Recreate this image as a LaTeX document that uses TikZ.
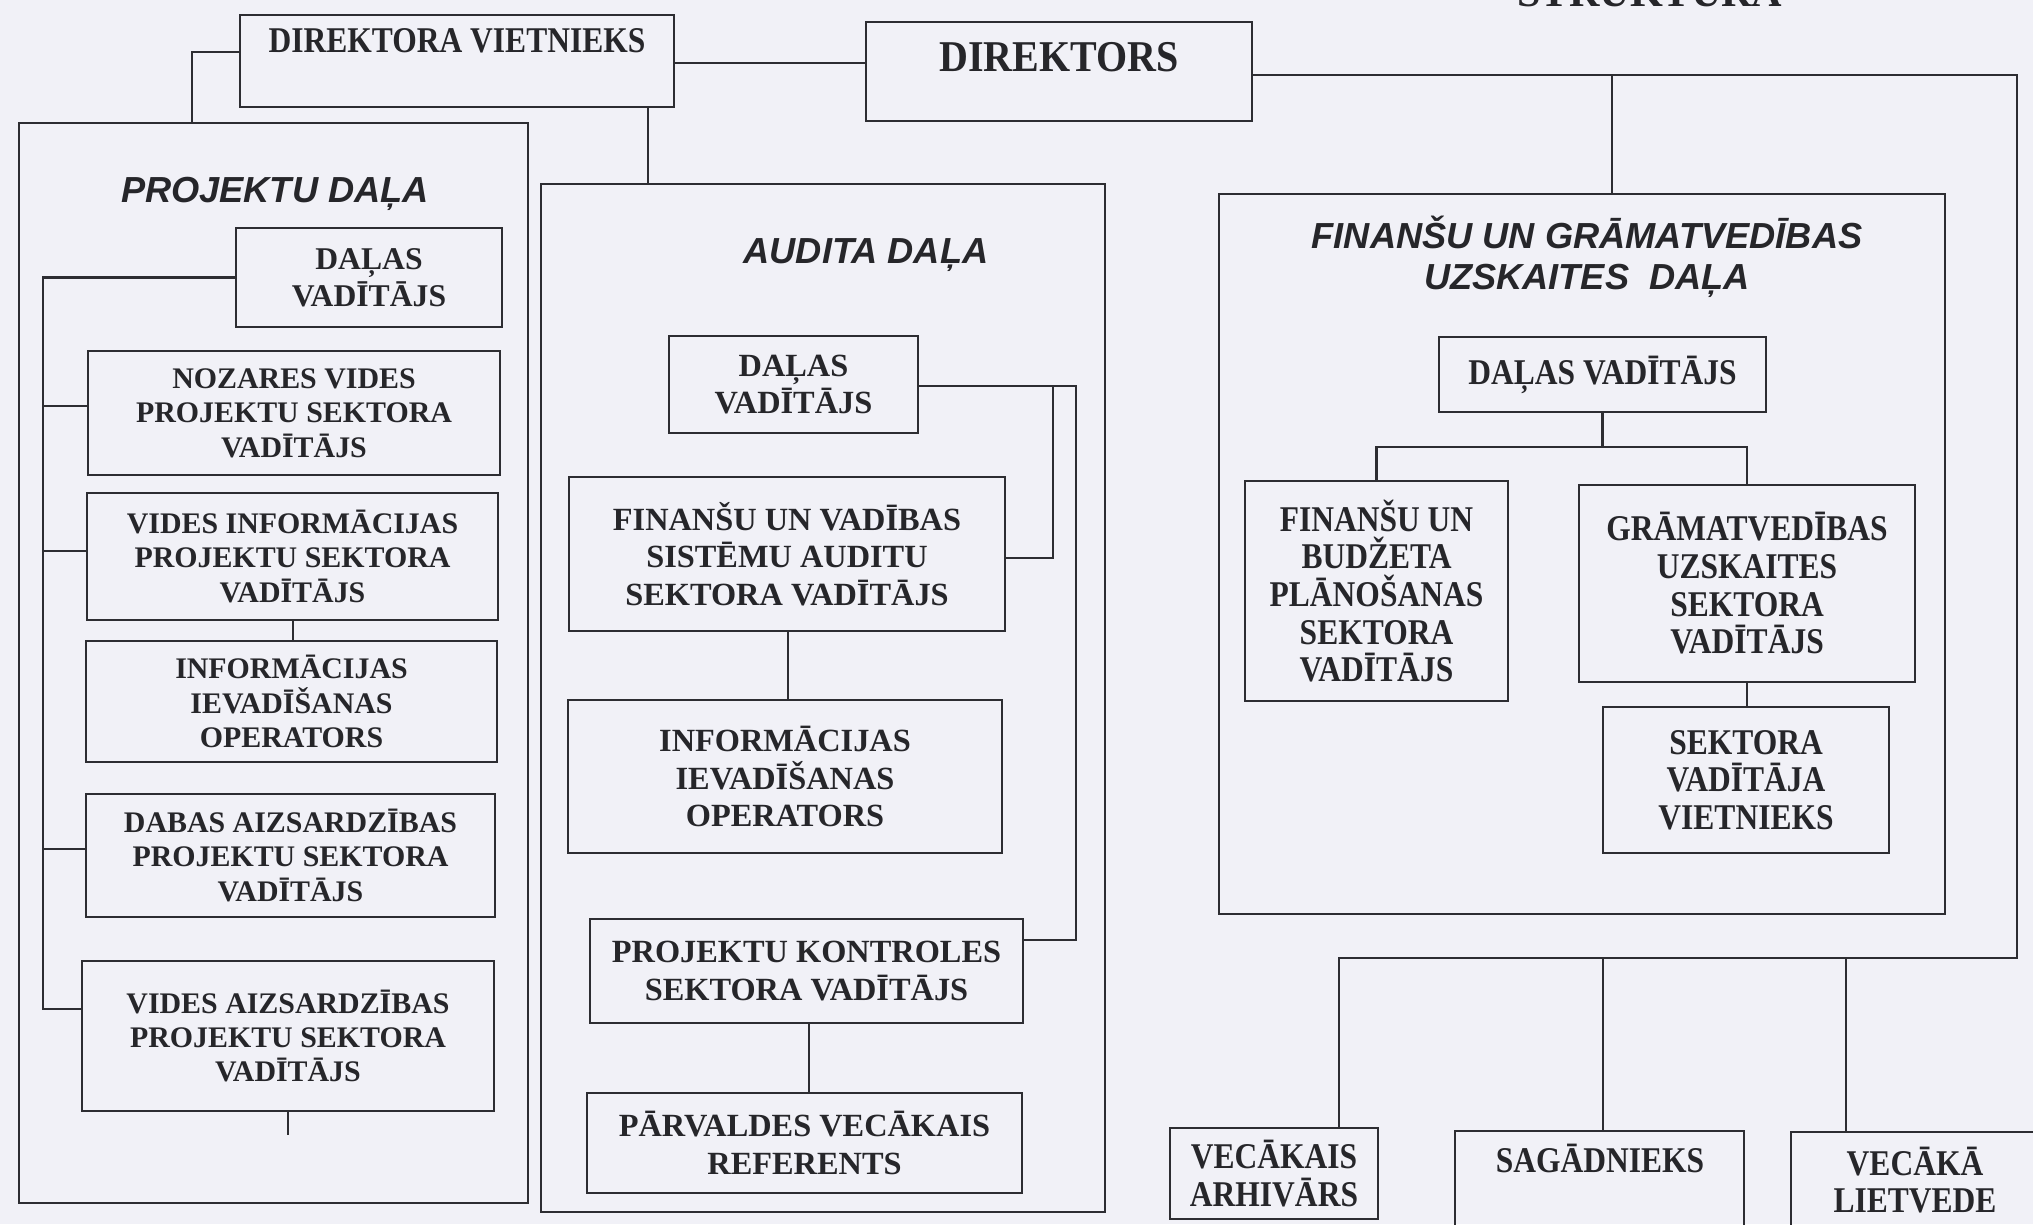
\documentclass[tikz,border=0pt]{standalone}
\usepackage{fontspec}
\setmainfont{Liberation Serif}
\newfontfamily\condf[FakeStretch=0.87]{Liberation Serif}
\newfontfamily\condg[FakeStretch=0.91]{Liberation Serif}
\newfontfamily\headf{Liberation Sans}
\definecolor{bgc}{RGB}{241,241,247}
\definecolor{linec}{RGB}{45,45,50}
\definecolor{textc}{RGB}{38,38,42}
\newcommand\bx[7]{\node[#2, minimum width={(#5-#3)*0.01cm}, minimum height={(#6-#4)*0.01cm}] (#1) at ({(#3+#5)/2},{(#4+#6)/2}) {#7};}
\begin{document}
\begin{tikzpicture}[x=0.01cm,y=-0.01cm,
  box/.style={draw=linec, line width=0.75pt, inner sep=0pt, align=center, text=textc},
  conn/.style={draw=linec, line width=0.65pt},
  ptx/.style={box, font=\bfseries\fontsize{8.5}{9.8}\selectfont},
  atx/.style={box, font=\bfseries\fontsize{9.2}{10.7}\selectfont},
  ftx/.style={box, font=\condf\bfseries\fontsize{10.3}{10.7}\selectfont},
  head/.style={text=textc, align=center, inner sep=0pt, font=\headf\bfseries\itshape\fontsize{10.3}{11.7}\selectfont},
  plain/.style={text=textc, align=center, inner sep=0pt}]
\useasboundingbox (0,0) rectangle (2033,1224);
\clip (0,0) rectangle (2033,1224);
\fill[bgc] (0,0) rectangle (2033,1224);

% cut-off title
\node[plain, anchor=base, font=\bfseries\fontsize{12}{14}\selectfont] (ttl) at (1650,7) {STRUKTURA};

% section frames
\bx{proj}{box}{19}{123}{528}{1203}{}
\bx{aud}{box}{541}{184}{1105}{1212}{}
\bx{fin}{box}{1219}{194}{1945}{914}{}

\node[head] (projh) at (275,194) {PROJEKTU DAĻA};
\node[head] (audh) at (866,255) {AUDITA DAĻA};
\node[head] (finh) at (1587,257) {FINANŠU UN GRĀMATVEDĪBAS\\UZSKAITES\ \ DAĻA};

% top
\bx{dv}{box}{240}{15}{674}{107}{}
\node[plain, font=\condf\bfseries\fontsize{10.3}{12}\selectfont] (dvt) at (457,41) {DIREKTORA VIETNIEKS};
\bx{dir}{box}{866}{22}{1252}{121}{}
\node[plain, font=\condg\bfseries\fontsize{12.5}{14}\selectfont] (dirt) at (1059,57) {DIREKTORS};

% projektu dala
\bx{pdv}{box, font=\bfseries\fontsize{9}{10.5}\selectfont}{236}{228}{502}{327}{DAĻAS\\VADĪTĀJS}
\bx{noz}{ptx}{88}{351}{500}{475}{NOZARES VIDES\\PROJEKTU SEKTORA\\VADĪTĀJS}
\bx{vinf}{ptx}{87}{493}{498}{620}{VIDES INFORMĀCIJAS\\PROJEKTU SEKTORA\\VADĪTĀJS}
\bx{iio}{ptx}{86}{641}{497}{762}{INFORMĀCIJAS\\IEVADĪŠANAS\\OPERATORS}
\bx{dab}{ptx}{86}{794}{495}{917}{DABAS AIZSARDZĪBAS\\PROJEKTU SEKTORA\\VADĪTĀJS}
\bx{vaiz}{ptx}{82}{961}{494}{1111}{VIDES AIZSARDZĪBAS\\PROJEKTU SEKTORA\\VADĪTĀJS}

% audita dala
\bx{adv}{atx}{669}{336}{918}{433}{DAĻAS\\VADĪTĀJS}
\bx{fvs}{atx}{569}{477}{1005}{631}{FINANŠU UN VADĪBAS\\SISTĒMU AUDITU\\SEKTORA VADĪTĀJS}
\bx{iio2}{atx}{568}{700}{1002}{853}{INFORMĀCIJAS\\IEVADĪŠANAS\\OPERATORS}
\bx{pks}{atx}{590}{919}{1023}{1023}{PROJEKTU KONTROLES\\SEKTORA VADĪTĀJS}
\bx{pvr}{atx}{587}{1093}{1022}{1193}{PĀRVALDES VECĀKAIS\\REFERENTS}

% finansu dala
\bx{fdv}{ftx}{1439}{337}{1766}{412}{DAĻAS VADĪTĀJS}
\bx{fub}{ftx}{1245}{481}{1508}{701}{FINANŠU UN\\BUDŽETA\\PLĀNOŠANAS\\SEKTORA\\VADĪTĀJS}
\bx{gu}{ftx}{1579}{485}{1915}{682}{GRĀMATVEDĪBAS\\UZSKAITES\\SEKTORA\\VADĪTĀJS}
\bx{svv}{ftx}{1603}{707}{1889}{853}{SEKTORA\\VADĪTĀJA\\VIETNIEKS}

% bottom
\bx{arh}{ftx}{1170}{1128}{1378}{1219}{VECĀKAIS\\ARHIVĀRS}
\bx{sag}{box}{1455}{1131}{1744}{1250}{}
\node[plain, font=\condf\bfseries\fontsize{10.3}{10.7}\selectfont] (sagt) at (1600,1158) {SAGĀDNIEKS};
\bx{liet}{ftx}{1791}{1132}{2039}{1228}{VECĀKĀ\\LIETVEDE}

% coordinates
\coordinate (rt) at (2017,75);
\coordinate (rb) at (2017,958);
\coordinate (stub) at (288,1135);

% top connectors
\draw[conn] (dv.west |- 0,52) -| (192,0 |- proj.north);
\draw[conn] (dv.east |- 0,63) -- (dir.west |- 0,63);
\draw[conn] (648,0 |- dv.south) -- (648,0 |- aud.north);
\draw[conn] (dir.east |- rt) -- (rt) -- (rb) -- (1339,0 |- rb) -- (1339,0 |- arh.north);
\draw[conn] (1612,0 |- rt) -- (1612,0 |- fin.north);
\draw[conn] (1603,0 |- rb) -- (1603,0 |- sag.north);
\draw[conn] (1846,0 |- rb) -- (1846,0 |- liet.north);

% projektu connectors
\draw[conn] (pdv.west) -| (43,1009) -- (vaiz.west |- 0,1009);
\draw[conn] (43,406) -- (noz.west |- 0,406);
\draw[conn] (43,551) -- (vinf.west |- 0,551);
\draw[conn] (43,849) -- (dab.west |- 0,849);
\draw[conn] (293,0 |- vinf.south) -- (293,0 |- iio.north);
\draw[conn] (288,0 |- vaiz.south) -- (stub);

% audita connectors
\draw[conn] (adv.east |- 0,386) -- (1076,386) |- (pks.east |- 0,940);
\draw[conn] (1053,386) |- (fvs.east |- 0,558);
\draw[conn] (788,0 |- fvs.south) -- (788,0 |- iio2.north);
\draw[conn] (809,0 |- pks.south) -- (809,0 |- pvr.north);

% finansu connectors
\draw[conn] (fdv.south) -- (0,447 -| fdv.south);
\draw[conn] (fub.north) |- (0,447 -| fdv.south) -| (gu.north);
\draw[conn] (gu.south) -- (gu.south |- svv.north);
\end{tikzpicture}
\end{document}
